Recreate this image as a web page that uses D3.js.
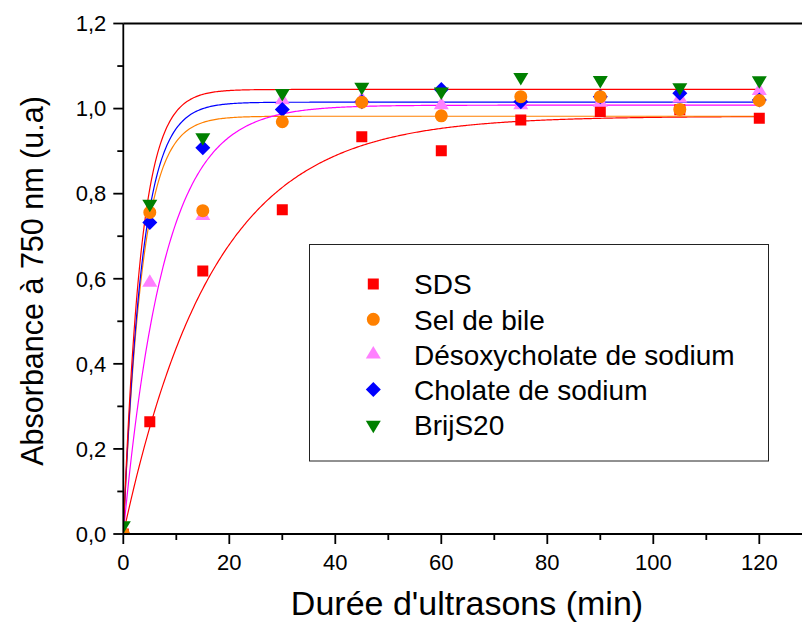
<!DOCTYPE html>
<html><head><meta charset="utf-8">
<script src="https://cdn.jsdelivr.net/npm/d3@7"></script>
<style>
html,body{margin:0;padding:0;background:#fff;}
svg{display:block;}
</style></head>
<body>
<svg id="chart" width="802" height="624" font-family="'Liberation Sans', Arial, sans-serif"></svg>
<script>
// ---- data ----
const durations = [0, 5, 15, 30, 45, 60, 75, 90, 105, 120];
const seriesNames = ["SDS", "Sel de bile", "Désoxycholate de sodium", "Cholate de sodium", "BrijS20"];
const sds      = [0, 0.264, 0.618, 0.762, 0.934, 0.901, 0.973, 0.993, 0.997, 0.977];
const selBile  = [0, 0.756, 0.760, 0.969, 1.015, 0.983, 1.028, 1.028, 0.998, 1.019];
const desoxy   = [0, 0.591, 0.748, 1.020, 1.022, 1.008, 1.008, 1.014, 1.024, 1.042];
const cholate  = [0, 0.732, 0.908, 0.998, 1.016, 1.045, 1.016, 1.028, 1.036, 1.020];
const brij     = [0.02, 0.776, 0.932, 1.036, 1.051, 1.040, 1.074, 1.067, 1.050, 1.066];
const markerColors = ["#FF0000", "#FF8000", "#FF80FF", "#0000FF", "#008000"];
const markerShapes = ["square", "circle", "triangleUp", "diamond", "triangleDown"];
// exponential fits y = A (1 - exp(-k t))
const fitColors  = ["#FF0000", "#FF8000", "#FF00FF", "#0000FF", "#FF0000"];
const fitPlateau = [0.982, 0.982, 1.008, 1.015, 1.045];
const fitRate    = [0.059, 0.28, 0.13, 0.28, 0.30];
const yTicks = [0, 0.2, 0.4, 0.6, 0.8, 1.0, 1.2];
const yTickLabels = ["0,0", "0,2", "0,4", "0,6", "0,8", "1,0", "1,2"];
const xTicks = [0, 20, 40, 60, 80, 100, 120];
const xTickLabels = ["0", "20", "40", "60", "80", "100", "120"];

const allSeries = [sds, selBile, desoxy, cholate, brij];

(function draw() {
const svg = d3.select("#chart");
const pL = 123.3, pT = 23.5, pB = 534, pR = 802;
const x = d3.scaleLinear().domain([0, 130]).range([pL, pL + 130 * 5.3]);
const y = d3.scaleLinear().domain([0, 1.2]).range([pB, pT]);

svg.append("defs").append("clipPath").attr("id", "plotclip")
  .append("rect").attr("x", pL).attr("y", pT).attr("width", pR - pL).attr("height", pB - pT);

function shapePath(shape, cx, cy) {
  const p = d3.path();
  if (shape === "square") { const h = 5.5; p.rect(cx - h, cy - h, 2 * h, 2 * h); }
  else if (shape === "circle") { p.moveTo(cx + 6.5, cy); p.arc(cx, cy, 6.5, 0, 2 * Math.PI); }
  else if (shape === "triangleUp") { const w = 7.5, hh = 12.5;
    p.moveTo(cx, cy - hh * 2 / 3); p.lineTo(cx + w, cy + hh / 3); p.lineTo(cx - w, cy + hh / 3); p.closePath(); }
  else if (shape === "triangleDown") { const w = 7.5, hh = 12.5;
    p.moveTo(cx, cy + hh * 2 / 3); p.lineTo(cx + w, cy - hh / 3); p.lineTo(cx - w, cy - hh / 3); p.closePath(); }
  else if (shape === "diamond") { const d = 7.5;
    p.moveTo(cx, cy - d); p.lineTo(cx + d, cy); p.lineTo(cx, cy + d); p.lineTo(cx - d, cy); p.closePath(); }
  return p.toString();
}

// ---- fit curves ----
const fitG = svg.append("g").attr("clip-path", "url(#plotclip)");
const tSamples = d3.range(0, 120.001, 0.25);
const line = d3.line().x(d => x(d[0])).y(d => y(d[1]));
fitPlateau.forEach((A, i) => {
  const k = fitRate[i];
  const pts = tSamples.map(t => [t, A * (1 - Math.exp(-k * t))]);
  fitG.append("path").attr("d", line(pts)).attr("fill", "none")
    .attr("stroke", fitColors[i]).attr("stroke-width", 1.2);
});

// ---- points ----
const ptsG = svg.append("g").attr("clip-path", "url(#plotclip)");
const drawOrder = [0, 2, 3, 1, 4];
drawOrder.forEach(si => {
  ptsG.append("g").selectAll("path").data(allSeries[si]).join("path")
    .attr("d", (v, j) => shapePath(markerShapes[si], x(durations[j]), y(v)))
    .attr("fill", markerColors[si]);
});

// ---- axes ----
const axG = svg.append("g").attr("stroke", "#000").attr("stroke-width", 1.8);
axG.append("line").attr("x1", pL).attr("x2", pL).attr("y1", pT).attr("y2", pB);
axG.append("line").attr("x1", pL).attr("x2", pR).attr("y1", pB).attr("y2", pB);
axG.append("line").attr("x1", pL).attr("x2", pR).attr("y1", pT).attr("y2", pT);

const yMinor = d3.range(0.1, 1.2, 0.2);
axG.selectAll(".ymaj").data(yTicks).join("line").attr("class", "ymaj")
  .attr("x1", pL - 10).attr("x2", pL).attr("y1", d => y(d)).attr("y2", d => y(d));
axG.selectAll(".ymin").data(yMinor).join("line").attr("class", "ymin")
  .attr("x1", pL - 6).attr("x2", pL).attr("y1", d => y(d)).attr("y2", d => y(d));
const xMinor = d3.range(10, 130, 20);
axG.selectAll(".xmaj").data(xTicks).join("line").attr("class", "xmaj")
  .attr("x1", d => x(d)).attr("x2", d => x(d)).attr("y1", pB).attr("y2", pB + 10);
axG.selectAll(".xmin").data(xMinor).join("line").attr("class", "xmin")
  .attr("x1", d => x(d)).attr("x2", d => x(d)).attr("y1", pB).attr("y2", pB + 6);

svg.append("g").selectAll("text").data(yTicks).join("text")
  .attr("x", pL - 17).attr("y", d => y(d) + 7.8).attr("text-anchor", "end")
  .attr("font-size", 22).attr("fill", "#000").text((d, i) => yTickLabels[i]);
svg.append("g").selectAll("text").data(xTicks).join("text")
  .attr("x", d => x(d)).attr("y", 570).attr("text-anchor", "middle")
  .attr("font-size", 22).attr("fill", "#000").text((d, i) => xTickLabels[i]);

svg.append("text").attr("transform", "translate(43,281) rotate(-90)")
  .attr("text-anchor", "middle").attr("font-size", 30.5).attr("fill", "#000")
  .text("Absorbance à 750 nm (u.a)");
svg.append("text").attr("x", 467).attr("y", 615).attr("text-anchor", "middle")
  .attr("font-size", 34).attr("fill", "#000").text("Durée d'ultrasons (min)");

// ---- legend ----
const lg = svg.append("g");
lg.append("rect").attr("x", 309.5).attr("y", 244.5).attr("width", 459).attr("height", 216.5)
  .attr("fill", "#fff").attr("stroke", "#222").attr("stroke-width", 1);
const rowY = [284, 319.3, 354.3, 389.5, 425];
seriesNames.forEach((name, i) => {
  lg.append("path").attr("d", shapePath(markerShapes[i], 373.3, rowY[i])).attr("fill", markerColors[i]);
  lg.append("text").attr("x", 414).attr("y", rowY[i] + 10.2).attr("font-size", 28)
    .attr("fill", "#000").text(name);
});
})();
</script>
</body></html>
